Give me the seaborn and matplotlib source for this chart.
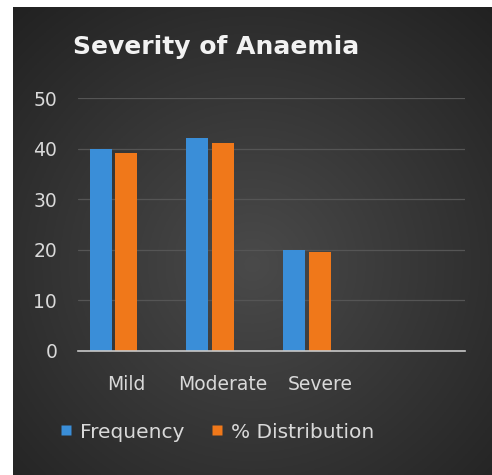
import numpy as np
import pandas as pd
import matplotlib
matplotlib.use("Agg")
import matplotlib.pyplot as plt
import seaborn as sns
from matplotlib.lines import Line2D

categories = ["Mild", "Moderate", "Severe"]
frequency = [40, 42, 20]
distribution = [39.2, 41.2, 19.6]
series_names = ["Frequency", "% Distribution"]
yticks = [0, 10, 20, 30, 40, 50]
title = "Severity of Anaemia"

df = pd.DataFrame({
    "category": categories * 2,
    "series": [series_names[0]] * 3 + [series_names[1]] * 3,
    "value": frequency + distribution,
})

sns.set_theme(style="dark")
plt.rcParams['font.family'] = ['DejaVu Sans']

W, H = 492, 475
fig = plt.figure(figsize=(W / 100, H / 100), dpi=100)
fig.patch.set_facecolor("white")

# background panel with radial gradient
bg = fig.add_axes([13 / W, 0, 1 - 13 / W, 1 - 7 / H])
yy, xx = np.mgrid[0:1:200j, 0:1:200j]
r = np.sqrt((xx - 0.5) ** 2 + (yy - 0.55) ** 2)
g = 0.29 - 0.16 * np.clip(r / 0.75, 0, 1)
img = np.dstack([g, g, g])
bg.imshow(img, aspect="auto", extent=[0, 1, 0, 1])
bg.set_axis_off()

ax = fig.add_axes([78 / W, 1 - 351 / H, (465 - 78) / W, (351 - 98) / H])
ax.patch.set_alpha(0)

palette = {series_names[0]: "#3a8ed8", series_names[1]: "#f0781a", " ": "#000000"}
sns.barplot(data=df, x="category", y="value", hue="series",
            hue_order=series_names + [" "], order=categories,
            palette=palette, width=0.8, gap=0.15, ax=ax, legend=False,
            saturation=1, edgecolor="none")

ax.set_xlim(-0.5, 3.5)
ax.set_ylim(0, 50)
ax.set_yticks(yticks)
ax.set_xlabel("")
ax.set_ylabel("")
ax.grid(axis="y", color="#555555", linewidth=0.9)
ax.grid(axis="x", visible=False)
ax.set_axisbelow(True)
for s in ["top", "right", "left"]:
    ax.spines[s].set_visible(False)
ax.spines["bottom"].set_color("#c8c8c8")
ax.spines["bottom"].set_linewidth(1.2)
ax.tick_params(axis="both", length=0, colors="#d9d9d9", labelsize=13.5)
ax.tick_params(axis="y", pad=15)
ax.tick_params(axis="x", pad=17)

fig.text(73 / W, 1 - 47 / H, title, color="#f2f2f2", fontsize=18,
         fontweight="bold", ha="left", va="center")

handles = [Line2D([0], [0], marker="s", linestyle="none", markersize=7,
                  markerfacecolor=palette[n], markeredgecolor="none") for n in series_names]
fig.legend(handles, series_names, loc="center", bbox_to_anchor=(216 / W, 1 - 432 / H),
           ncol=2, frameon=False, fontsize=14.5, labelcolor="#d9d9d9",
           handletextpad=0.3, columnspacing=1.2, handlelength=0.8)

fig.savefig("out.png", dpi=100, facecolor=fig.get_facecolor())
